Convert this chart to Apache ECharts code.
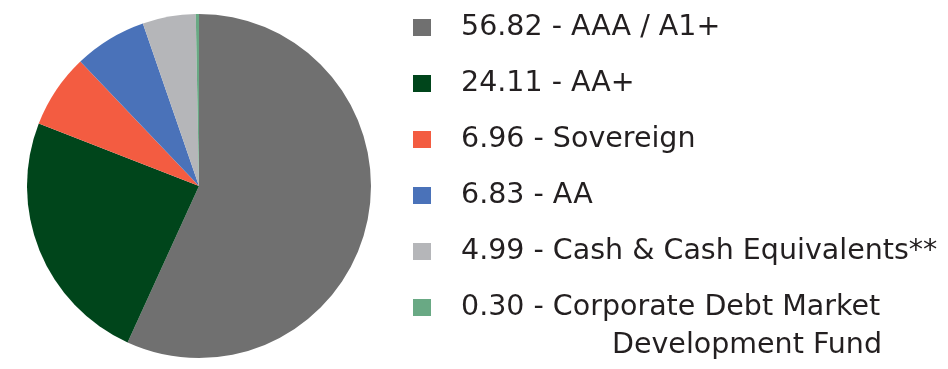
<!DOCTYPE html>
<html><head><meta charset="utf-8">
<script src="https://cdn.jsdelivr.net/npm/echarts@6/dist/echarts.min.js"></script>
<style>html,body{margin:0;padding:0;background:#fff}#c{width:948px;height:369px}</style>
</head><body><div id="c"></div>
<script>
var categories = ['AAA / A1+', 'AA+', 'Sovereign', 'AA', 'Cash & Cash Equivalents**', 'Corporate Debt Market\nDevelopment Fund'];
var values = [56.82, 24.11, 6.96, 6.83, 4.99, 0.30];
var colors = ['#707070', '#00451b', '#f35c41', '#4a72b9', '#b5b6b9', '#69a984'];

var FONT = 'DejaVu Sans';
var FS = 28.5;
var TXT = '#231f20';

var chart = echarts.init(document.getElementById('c'));
var data = categories.map(function (c, i) {
  return { name: c, value: values[i], itemStyle: { color: colors[i] } };
});
var wrapped = [];
categories.forEach(function (c) {
  var p = c.split('\n');
  if (p.length > 1) wrapped.push(p[1]);
});
chart.setOption({
  animation: false,
  legend: {
    orient: 'vertical',
    left: 413,
    top: 7,
    padding: 0,
    itemWidth: 18,
    itemHeight: 17,
    itemGap: 15,
    icon: 'rect',
    selectedMode: false,
    data: categories,
    textStyle: {
      fontFamily: FONT,
      fontSize: FS,
      lineHeight: 35,
      color: TXT,
      padding: [6, 0, 0, 25]
    },
    formatter: function (name) {
      var i = categories.indexOf(name);
      return values[i].toFixed(2) + ' - ' + name.split('\n')[0];
    }
  },
  graphic: wrapped.map(function (t) {
    return {
      type: 'text',
      x: 612,
      y: 345.5,
      silent: true,
      style: { text: t, fontFamily: FONT, fontSize: FS, fill: TXT, verticalAlign: 'middle', align: 'left' }
    };
  }),
  series: [{
    type: 'pie',
    center: [199, 186],
    radius: 172,
    startAngle: 90,
    clockwise: true,
    label: { show: false },
    labelLine: { show: false },
    emphasis: { disabled: true },
    itemStyle: { borderWidth: 0 },
    data: data
  }]
});
</script></body></html>
